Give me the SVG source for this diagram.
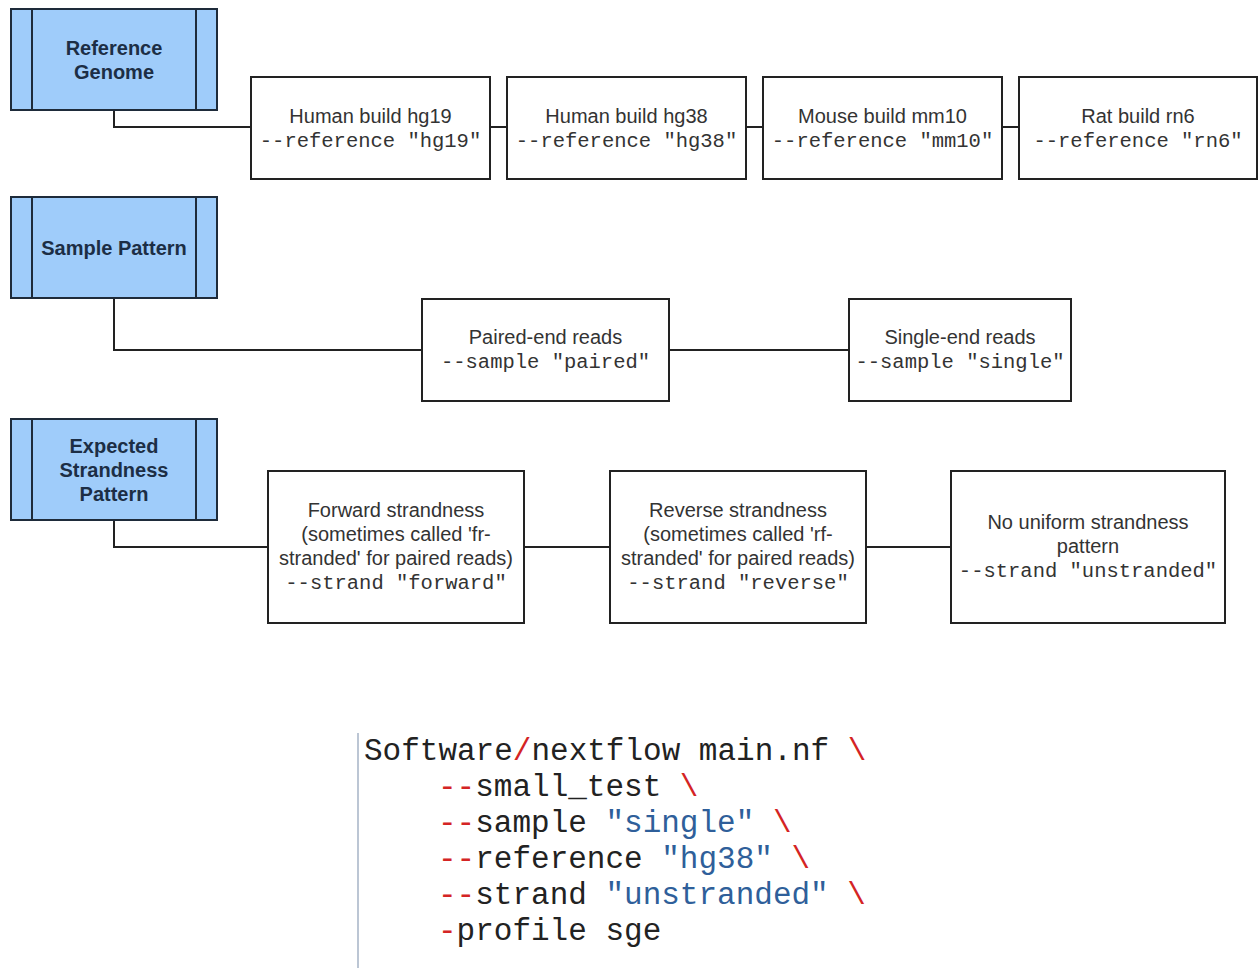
<svg xmlns="http://www.w3.org/2000/svg" width="1258" height="968" viewBox="0 0 1258 968">
  <style>
    .cat { fill: #9fccfa; stroke: #1e2b3a; stroke-width: 2; }
    .bar { stroke: #1e2b3a; stroke-width: 2; }
    .opt { fill: #ffffff; stroke: #222222; stroke-width: 2; }
    .lbl { font-family: "Liberation Sans", Arial, sans-serif; font-size: 20px; font-weight: bold; fill: #1c2e45; text-anchor: middle; }
    .txt { font-family: "Liberation Sans", Arial, sans-serif; font-size: 20px; fill: #333333; text-anchor: middle; }
    .mono { font-family: "Liberation Mono", "Courier New", monospace; font-size: 20.5px; fill: #333333; text-anchor: middle; }
    .wire { fill: none; stroke: #222222; stroke-width: 2; }
    .code { font-family: "Liberation Mono", "Courier New", monospace; font-size: 31px; fill: #222222; }
    .r { fill: #d42424; }
    .s { fill: #2f5f9a; }
  </style>
  <rect width="1258" height="968" fill="#ffffff"/>

  <!-- connectors -->
  <g id="connectors">
    <path class="wire" d="M114 110 V127 H251"/>
    <path class="wire" d="M490 127 H507"/>
    <path class="wire" d="M746 127 H763"/>
    <path class="wire" d="M1002 127 H1019"/>
    <path class="wire" d="M114 298 V350 H422"/>
    <path class="wire" d="M669 350 H849"/>
    <path class="wire" d="M114 520 V547 H268"/>
    <path class="wire" d="M524 547 H610"/>
    <path class="wire" d="M866 547 H951"/>
  </g>

  <!-- category: reference genome -->
  <g id="ref-genome">
    <rect class="cat" x="11" y="9" width="206" height="101"/>
    <line class="bar" x1="32" y1="9" x2="32" y2="110"/>
    <line class="bar" x1="196" y1="9" x2="196" y2="110"/>
    <text class="lbl" x="114" y="55">Reference</text>
    <text class="lbl" x="114" y="79">Genome</text>
  </g>
  <g id="hg19">
    <rect class="opt" x="251" y="77" width="239" height="102"/>
    <text class="txt" x="370.5" y="123">Human build hg19</text>
    <text class="mono" x="370.5" y="147">--reference "hg19"</text>
  </g>
  <g id="hg38">
    <rect class="opt" x="507" y="77" width="239" height="102"/>
    <text class="txt" x="626.5" y="123">Human build hg38</text>
    <text class="mono" x="626.5" y="147">--reference "hg38"</text>
  </g>
  <g id="mm10">
    <rect class="opt" x="763" y="77" width="239" height="102"/>
    <text class="txt" x="882.5" y="123">Mouse build mm10</text>
    <text class="mono" x="882.5" y="147">--reference "mm10"</text>
  </g>
  <g id="rn6">
    <rect class="opt" x="1019" y="77" width="238" height="102"/>
    <text class="txt" x="1138" y="123">Rat build rn6</text>
    <text class="mono" x="1138" y="147">--reference "rn6"</text>
  </g>

  <!-- category: sample pattern -->
  <g id="sample-pattern">
    <rect class="cat" x="11" y="197" width="206" height="101"/>
    <line class="bar" x1="32" y1="197" x2="32" y2="298"/>
    <line class="bar" x1="196" y1="197" x2="196" y2="298"/>
    <text class="lbl" x="114" y="255">Sample Pattern</text>
  </g>
  <g id="paired">
    <rect class="opt" x="422" y="299" width="247" height="102"/>
    <text class="txt" x="545.5" y="344">Paired-end reads</text>
    <text class="mono" x="545.5" y="368">--sample "paired"</text>
  </g>
  <g id="single">
    <rect class="opt" x="849" y="299" width="222" height="102"/>
    <text class="txt" x="960" y="344">Single-end reads</text>
    <text class="mono" x="960" y="368">--sample "single"</text>
  </g>

  <!-- category: expected strandness -->
  <g id="strandness">
    <rect class="cat" x="11" y="419" width="206" height="101"/>
    <line class="bar" x1="32" y1="419" x2="32" y2="520"/>
    <line class="bar" x1="196" y1="419" x2="196" y2="520"/>
    <text class="lbl" x="114" y="453">Expected</text>
    <text class="lbl" x="114" y="477">Strandness</text>
    <text class="lbl" x="114" y="501">Pattern</text>
  </g>
  <g id="forward">
    <rect class="opt" x="268" y="471" width="256" height="152"/>
    <text class="txt" x="396" y="517">Forward strandness</text>
    <text class="txt" x="396" y="541">(sometimes called 'fr-</text>
    <text class="txt" x="396" y="565">stranded' for paired reads)</text>
    <text class="mono" x="396" y="589">--strand "forward"</text>
  </g>
  <g id="reverse">
    <rect class="opt" x="610" y="471" width="256" height="152"/>
    <text class="txt" x="738" y="517">Reverse strandness</text>
    <text class="txt" x="738" y="541">(sometimes called 'rf-</text>
    <text class="txt" x="738" y="565">stranded' for paired reads)</text>
    <text class="mono" x="738" y="589">--strand "reverse"</text>
  </g>
  <g id="unstranded">
    <rect class="opt" x="951" y="471" width="274" height="152"/>
    <text class="txt" x="1088" y="529">No uniform strandness</text>
    <text class="txt" x="1088" y="553">pattern</text>
    <text class="mono" x="1088" y="577">--strand "unstranded"</text>
  </g>

  <!-- example command -->
  <g id="command">
    <line x1="358" y1="733" x2="358" y2="968" stroke="#bcc6d4" stroke-width="2"/>
    <text class="code" x="364" y="760">Software<tspan class="r">/</tspan>nextflow main.nf <tspan class="r">\</tspan></text>
    <text class="code" x="438" y="796"><tspan class="r">--</tspan>small_test <tspan class="r">\</tspan></text>
    <text class="code" x="438" y="832"><tspan class="r">--</tspan>sample <tspan class="s">"single"</tspan> <tspan class="r">\</tspan></text>
    <text class="code" x="438" y="868"><tspan class="r">--</tspan>reference <tspan class="s">"hg38"</tspan> <tspan class="r">\</tspan></text>
    <text class="code" x="438" y="904"><tspan class="r">--</tspan>strand <tspan class="s">"unstranded"</tspan> <tspan class="r">\</tspan></text>
    <text class="code" x="438" y="940"><tspan class="r">-</tspan>profile sge</text>
  </g>
</svg>
